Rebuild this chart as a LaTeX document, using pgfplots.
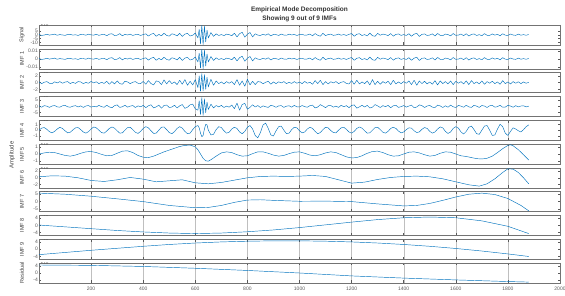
\documentclass[border=0pt]{standalone}
\usepackage{fontspec}
\setmainfont{Liberation Sans}
\usepackage{pgfplots}
\usepackage{pgfplotstable}
\pgfplotsset{compat=1.18}
\definecolor{mblue}{RGB}{0,114,189}
\pgfplotsset{
  panel/.style={
    scale only axis, width=521pt, height=20pt,
    xmin=0, xmax=2000,
    xtick={200,400,...,2000},
    xmajorgrids, major grid style={black!25, line width=0.35pt},
    tick align=inside, major tick length=2.5pt,
    axis line style={black!55, line width=0.55pt},
    every tick/.style={black!65, line width=0.45pt},
    ytick pos=both, xtick pos=both,
    tick label style={font=\fontsize{5}{5}\selectfont, text=black!65},
    yticklabel style={inner sep=1pt},
    /pgf/number format/assume math mode=true,
    /pgf/number format/1000 sep={},
    every axis y label/.style={at={(axis description cs:-0.0326,0.5)}, rotate=90, anchor=center, font=\fontsize{5.5}{6}\selectfont, text=black!75},
    clip=true,
  },
  nox/.style={xticklabels={}},
  pl/.style={mblue, line width=0.45pt, line join=round, no marks},
}
\newcommand{\expo}[1]{\node[anchor=west, font=\fontsize{4.5}{5}\selectfont, text=black!65, inner sep=0.5pt] at ([xshift=1pt,yshift=0.8pt]rel axis cs:0,1) {×10\textsuperscript{#1}};}

\pgfplotstableread{
x s i2 i3 i4
0 0.5 0.2 0.4 0.0
10 -0.8 -0.3 -0.7 0.35
20 -0.3 0.1 0.6 0.45
30 0.7 0.3 0.2 0.15
40 -0.4 -0.2 -0.8 -0.25
50 0.2 -0.35 0.3 -0.45
60 0.8 0.25 0.7 -0.2
70 -0.6 -0.1 -0.4 0.2
80 0.3 0.3 -0.6 0.5
90 -0.2 -0.2 0.5 0.3
100 -0.7 0.15 0.8 -0.1
110 0.4 0.3 -0.3 -0.45
120 0.6 -0.3 -0.7 -0.35
130 -0.4 0.1 0.2 0.05
140 0.1 -0.25 0.6 0.4
150 -0.8 0.3 -0.5 0.45
160 0.5 0.2 0.4 0.1
170 0.3 -0.3 -0.8 -0.3
180 -0.5 0.05 0.3 -0.5
190 0.8 -0.2 0.7 -0.25
200 -0.1 0.35 -0.6 0.2
210 -0.4 -0.1 0.1 0.55
220 0.7 0.25 -0.4 0.4
230 -0.7 -0.3 0.8 0.0
240 0.2 0.1 -0.2 -0.4
250 0.5 -0.25 -0.7 -0.5
260 -1.2 0.4 0.9 -0.15
270 0.8 -0.5 -0.4 0.3
280 1.4 0.3 -1.1 0.55
290 -1.0 -0.4 0.6 0.35
300 -0.5 0.5 1.2 -0.1
310 1.5 -0.3 -0.8 -0.5
320 -1.3 -0.5 -0.3 -0.45
330 0.6 0.4 0.9 0.0
340 -0.3 0.2 -0.6 0.45
350 0.9 -0.3 0.2 0.5
360 -0.8 0.1 0.7 0.1
370 0.2 0.3 -0.9 -0.35
380 0.6 -0.2 0.4 -0.55
390 -0.9 -0.3 -0.3 -0.2
400 0.4 0.35 0.8 0.3
410 1.2 -0.5 -1.0 0.6
420 -1.6 0.6 0.5 0.4
430 0.7 -0.3 1.3 -0.1
440 1.8 -0.7 -1.2 -0.55
450 -1.9 0.5 -0.4 -0.5
460 0.5 0.3 1.0 0.0
470 -1.2 -0.6 -1.4 0.5
480 2.0 0.8 0.7 0.55
490 -0.8 -0.4 1.1 0.1
500 -1.7 0.6 -0.9 -0.4
510 1.3 -0.3 -0.5 -0.6
520 0.4 0.2 0.9 -0.25
530 -1.4 -0.6 -1.2 0.3
540 1.9 0.7 0.4 0.6
550 -2.1 -0.5 1.5 0.35
560 0.9 0.9 -1.6 -0.2
570 1.8 -0.8 -0.6 -0.6
580 -1.5 0.4 1.3 -0.5
590 -0.6 -0.7 1.8 0.1
600 2.2 0.9 -2.0 0.6
610 -4.0 -1.5 -3.0 0.8
615 7.0 2.0 4.5 0.4
620 -11.5 -2.6 -6.5 -0.5
625 12.0 2.7 7.0 -1.1
630 -12.5 -2.5 -7.2 -0.9
635 11.0 2.4 6.0 0.2
640 -9.0 -2.0 -5.0 1.0
645 6.0 1.6 3.5 0.9
650 -4.0 -1.3 -2.5 0.0
660 2.8 1.0 1.8 -0.8
670 -2.0 -0.8 -1.2 -0.7
680 1.2 0.5 0.7 0.1
690 -0.9 -0.3 -0.4 0.6
700 0.3 0.2 0.8 0.45
710 -1.0 -0.4 -0.9 -0.1
720 0.8 0.3 0.2 -0.5
730 0.2 -0.2 -0.6 -0.35
740 -1.1 0.3 1.1 0.2
750 2.0 -0.6 -1.8 0.5
760 -2.6 0.9 2.6 0.3
770 1.4 -0.8 -3.0 -0.3
780 3.2 0.5 1.5 -0.6
790 -3.0 -1.1 2.4 -0.2
800 0.8 1.0 -2.2 0.5
810 2.9 -0.7 -0.8 0.8
820 -2.7 0.4 1.3 0.2
830 1.2 -0.6 -0.5 -0.9
840 -0.4 0.3 0.7 -1.3
850 -0.9 0.2 -0.9 -0.4
860 0.7 -0.35 0.4 0.9
870 -0.5 0.1 -0.3 1.2
880 1.3 0.4 -0.8 0.3
890 -1.5 -0.5 0.9 -0.8
900 0.6 0.2 0.3 -1.0
910 0.2 -0.3 -0.7 -0.1
920 -0.8 0.25 0.4 0.6
930 0.9 -0.1 0.6 0.7
940 -0.3 0.3 -0.8 0.0
950 -0.6 -0.3 0.2 -0.6
960 0.8 0.1 0.5 -0.5
970 -0.2 -0.25 -0.6 0.1
980 0.5 0.3 0.8 0.5
990 -0.9 -0.2 -0.3 0.4
1000 0.4 0.15 -0.5 -0.1
1010 0.7 -0.3 0.7 -0.45
1020 -0.6 0.35 -0.2 -0.3
1030 -0.2 -0.2 -0.7 0.2
1040 0.9 0.1 0.6 0.5
1050 -1.3 -0.5 1.0 0.3
1060 1.6 0.6 -1.2 -0.2
1070 -0.6 -0.3 -0.5 -0.6
1080 -1.8 0.7 1.4 -0.4
1090 1.9 -0.6 0.3 0.1
1100 -1.1 0.3 -1.0 0.5
1110 0.4 -0.4 0.6 0.4
1120 0.8 0.25 0.7 -0.05
1130 -0.7 -0.1 -0.6 -0.4
1140 -0.2 0.3 0.2 -0.45
1150 0.9 -0.3 -0.8 0.0
1160 -0.5 0.1 0.9 0.4
1170 0.3 0.3 -0.3 0.5
1180 -0.8 -0.25 0.6 0.15
1190 0.6 -0.4 -1.0 -0.3
1200 1.6 0.6 0.8 -0.5
1210 -1.9 -0.5 1.2 -0.2
1220 0.7 0.7 -1.4 0.3
1230 1.4 -0.4 -0.4 0.55
1240 -1.0 0.2 0.9 0.35
1250 0.3 -0.3 -0.5 -0.1
1260 -1.4 0.5 0.8 -0.5
1270 2.1 -0.7 -1.3 -0.45
1280 -1.2 0.9 -0.6 0.0
1290 -1.9 -0.6 1.5 0.45
1300 1.8 0.4 0.4 0.5
1310 -0.6 -0.5 -0.9 0.1
1320 0.9 0.3 0.6 -0.35
1330 0.2 -0.2 -0.2 -0.5
1340 -1.0 0.4 0.8 -0.2
1350 1.5 -0.6 -1.1 0.3
1360 -1.7 0.7 0.5 0.5
1370 0.5 -0.4 0.9 0.3
1380 1.1 0.2 -0.8 -0.15
1390 -0.8 -0.3 -0.2 -0.45
1400 0.3 0.3 0.7 -0.3
1410 -0.9 -0.2 -0.6 0.1
1420 1.4 0.5 0.3 0.4
1430 -1.9 -0.6 1.0 0.35
1440 0.8 0.7 -1.1 -0.1
1450 2.0 -0.8 -0.5 -0.4
1460 -2.1 0.5 1.2 -0.3
1470 0.6 -0.3 0.6 0.15
1480 1.1 0.4 -0.9 0.45
1490 -0.9 -0.4 0.3 0.3
1500 -0.3 0.2 0.8 -0.2
1510 1.2 -0.5 -0.6 -0.5
1520 -1.5 0.6 -0.9 -0.3
1530 1.7 -0.7 1.0 0.2
1540 -0.6 0.5 0.4 0.55
1550 -1.1 -0.3 -0.9 0.4
1560 0.9 0.3 0.5 -0.2
1570 0.3 -0.4 -0.7 -0.55
1580 -1.3 0.5 1.0 -0.3
1590 1.6 -0.6 -0.3 0.3
1600 -0.7 0.4 -0.9 0.6
1610 -0.4 -0.2 0.8 0.35
1620 1.0 0.3 0.2 -0.3
1630 -1.1 -0.4 -0.7 -0.65
1640 1.4 0.5 0.9 -0.2
1650 -1.6 -0.6 -0.4 0.5
1660 0.5 0.6 -0.8 0.7
1670 1.1 -0.3 0.9 0.1
1680 -0.9 0.2 0.2 -0.6
1690 0.2 -0.4 -0.8 -0.7
1700 -1.2 0.5 0.7 0.0
1710 1.5 -0.5 0.3 0.7
1720 -0.6 0.3 -0.9 0.8
1730 -0.8 -0.2 0.5 0.0
1740 1.1 0.4 0.8 -0.9
1750 -0.4 -0.3 -0.6 -0.8
1760 0.7 0.2 -0.2 0.2
1770 -1.3 -0.5 0.9 1.0
1780 1.4 0.6 -0.7 0.6
1790 -0.5 -0.3 -0.5 -0.5
1800 -0.8 0.2 0.8 -0.9
1810 1.0 -0.4 0.3 -0.2
1820 -0.3 0.3 -0.7 0.4
1830 -0.7 -0.2 0.6 0.2
1840 0.8 0.25 -0.4 -0.1
1850 -0.5 -0.3 0.3 -0.3
1860 0.2 0.2 0.5 0.1
1870 -0.6 -0.2 -0.4 0.6
1880 0.4 0.1 0.2 0.9
}\tblA

\pgfplotstableread{
x y
0 0.0
20 0.15
40 0.25
60 0.2
80 0.0
100 -0.2
120 -0.3
140 -0.15
160 0.1
180 0.3
200 0.35
220 0.2
240 -0.05
260 -0.25
280 -0.2
300 0.1
320 0.4
340 0.45
360 0.2
380 -0.2
400 -0.45
420 -0.5
440 -0.3
460 0.0
480 0.3
500 0.55
520 0.8
540 1.05
560 1.2
580 1.25
600 1.0
610 0.6
620 0.0
630 -0.6
640 -0.95
650 -1.0
660 -0.8
680 -0.3
700 0.15
720 0.3
740 0.2
760 -0.1
780 -0.3
800 -0.25
820 0.05
840 0.3
860 0.3
880 0.1
900 -0.15
920 -0.3
940 -0.2
960 0.05
980 0.25
1000 0.3
1020 0.1
1040 -0.15
1060 -0.25
1080 -0.1
1100 0.15
1120 0.3
1140 0.2
1160 -0.1
1180 -0.4
1200 -0.55
1220 -0.5
1240 -0.25
1260 0.1
1280 0.35
1300 0.4
1320 0.2
1340 -0.1
1360 -0.3
1380 -0.25
1400 0.0
1420 0.25
1440 0.3
1460 0.15
1480 -0.1
1500 -0.3
1520 -0.2
1540 0.1
1560 0.3
1580 0.25
1600 0.0
1620 -0.25
1640 -0.35
1660 -0.5
1680 -0.65
1700 -0.7
1720 -0.6
1740 -0.3
1760 0.2
1780 0.75
1800 1.2
1810 1.3
1820 1.15
1840 0.6
1860 -0.1
1880 -0.85
}\tblFive

\pgfplotstableread{
x y
0 0.3
50 0.6
100 0.5
150 0.0
200 -0.8
250 -1.1
300 -0.6
350 0.1
400 -0.4
450 -1.2
500 -0.9
550 -0.6
600 -1.5
650 -1.8
700 -1.4
750 -0.7
800 0.0
850 0.4
900 0.5
950 0.4
1000 0.5
1050 0.7
1100 0.4
1150 -0.6
1200 -1.6
1250 -1.3
1300 -0.5
1350 0.1
1400 0.4
1450 0.5
1500 0.3
1550 -0.3
1600 -1.2
1650 -2.1
1690 -2.5
1720 -1.8
1750 -0.3
1780 1.6
1800 2.7
1820 2.6
1840 1.6
1860 0.0
1880 -1.8
}\tblSix

\pgfplotstableread{
x y
0 5.5
100 4.8
200 3.5
300 1.8
400 0.0
500 -2.5
600 -4.0
650 -3.8
700 -2.5
750 -0.5
800 1.0
850 1.2
900 0.8
1000 0.2
1100 0.3
1200 0.0
1300 -1.5
1400 -2.8
1450 -2.5
1500 -1.2
1550 0.8
1600 3.0
1650 4.8
1700 5.5
1750 4.6
1800 2.0
1850 -2.5
1880 -6.0
}\tblSeven

\pgfplotstableread{
x y
0 0.2
100 -0.8
200 -1.8
300 -2.8
400 -3.6
500 -4.2
600 -4.5
700 -4.2
800 -3.5
900 -2.5
1000 -1.2
1100 0.3
1200 1.8
1300 3.2
1400 4.2
1500 4.6
1600 4.2
1700 2.5
1800 -0.5
1880 -4.5
}\tblEight

\pgfplotstableread{
x y
0 -3.0
100 -1.8
200 -0.6
300 0.5
400 1.6
500 2.6
600 3.4
700 4.0
800 4.4
900 4.6
1000 4.6
1100 4.4
1200 4.0
1300 3.4
1400 2.6
1500 1.6
1600 0.4
1700 -1.0
1800 -2.6
1880 -4.0
}\tblNine

\pgfplotstableread{
x y
0 4.4
200 4.2
400 3.6
600 2.6
800 1.4
1000 0.0
1200 -1.6
1400 -2.8
1600 -3.8
1800 -4.7
1880 -5.0
}\tblRes

\begin{document}
\begin{tikzpicture}
\useasboundingbox (-39pt,25pt) rectangle (526pt,-271pt);
\node[font=\bfseries\fontsize{6.5}{7}\selectfont, text=black!80] at (260.5pt,15pt) {Empirical Mode Decomposition};
\node[font=\bfseries\fontsize{6.5}{7}\selectfont, text=black!80] at (260.5pt,6.5pt) {Showing 9 out of 9 IMFs};
\node[rotate=90, font=\fontsize{6}{7}\selectfont, text=black!75] at (-27pt,-130pt) {Amplitude};

% Signal
\begin{axis}[panel, nox, at={(0pt,0pt)}, anchor=north west, ymin=-13, ymax=12.5, ytick={-10,-5,0,5}, ylabel={Signal}]
\addplot[pl] table[x=x, y=s] {\tblA};
\expo{-3}
\end{axis}
% IMF 1
\begin{axis}[panel, nox, at={(0pt,-23.8pt)}, anchor=north west, ymin=-12.5, ymax=12.5, ytick={-10,0,10}, yticklabels={-0.01,0,0.01}, ylabel={IMF 1}]
\addplot[pl] table[x=x, y=s] {\tblA};
\end{axis}
% IMF 2
\begin{axis}[panel, nox, at={(0pt,-47.6pt)}, anchor=north west, ymin=-3, ymax=3, ytick={-2,0,2}, ylabel={IMF 2}]
\addplot[pl] table[x=x, y=i2] {\tblA};
\expo{-3}
\end{axis}
% IMF 3
\begin{axis}[panel, nox, at={(0pt,-71.4pt)}, anchor=north west, ymin=-8, ymax=8, ytick={-5,0,5}, ylabel={IMF 3}]
\addplot[pl] table[x=x, y=i3] {\tblA};
\expo{-4}
\end{axis}
% IMF 4
\begin{axis}[panel, nox, at={(0pt,-95.2pt)}, anchor=north west, ymin=-1.7, ymax=1.7, ytick={-1,0,1}, ylabel={IMF 4}]
\addplot[pl] table[x=x, y=i4] {\tblA};
\expo{-4}
\end{axis}
% IMF 5
\begin{axis}[panel, nox, at={(0pt,-119pt)}, anchor=north west, ymin=-1.4, ymax=1.4, ytick={-1,0,1}, ylabel={IMF 5}]
\addplot[pl] table[x=x, y=y] {\tblFive};
\expo{-4}
\end{axis}
% IMF 6
\begin{axis}[panel, nox, at={(0pt,-142.8pt)}, anchor=north west, ymin=-3, ymax=3, ytick={-2,0,2}, ylabel={IMF 6}]
\addplot[pl] table[x=x, y=y] {\tblSix};
\expo{-5}
\end{axis}
% IMF 7
\begin{axis}[panel, nox, at={(0pt,-166.6pt)}, anchor=north west, ymin=-6.5, ymax=6.5, ytick={-5,0,5}, ylabel={IMF 7}]
\addplot[pl] table[x=x, y=y] {\tblSeven};
\expo{-5}
\end{axis}
% IMF 8
\begin{axis}[panel, nox, at={(0pt,-190.4pt)}, anchor=north west, ymin=-5.5, ymax=5.5, ytick={-4,0,4}, ylabel={IMF 8}]
\addplot[pl] table[x=x, y=y] {\tblEight};
\expo{-5}
\end{axis}
% IMF 9
\begin{axis}[panel, nox, at={(0pt,-214.2pt)}, anchor=north west, ymin=-5.5, ymax=5.5, ytick={-4,0,4}, ylabel={IMF 9}]
\addplot[pl] table[x=x, y=y] {\tblNine};
\expo{-5}
\end{axis}
% Residual
\begin{axis}[panel, at={(0pt,-238pt)}, anchor=north west, ymin=-5.5, ymax=5.5, ytick={-4,0,4}, ylabel={Residual}, xtick pos=both, xticklabel pos=lower]
\addplot[pl] table[x=x, y=y] {\tblRes};
\expo{-5}
\end{axis}
\end{tikzpicture}
\end{document}
